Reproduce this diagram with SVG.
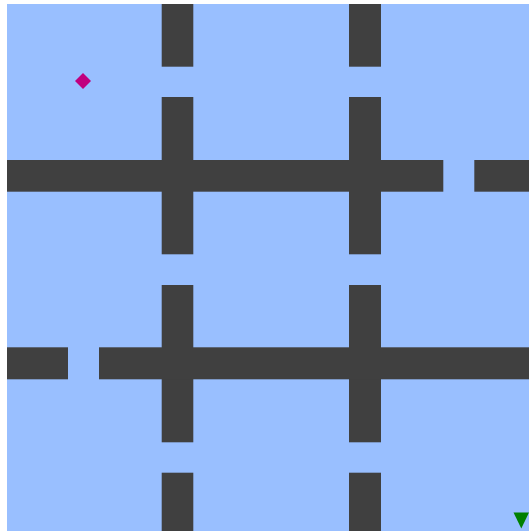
<svg xmlns="http://www.w3.org/2000/svg" width="529" height="531" viewBox="0 0 529 531">
<style>
.bg{fill:#99bfff}
.wall{fill:#404040}
</style>
<rect x="0" y="0" width="529" height="531" fill="#ffffff"/>
<rect class="bg" x="7" y="4" width="522" height="527"/>
<g id="walls">
<rect class="wall" x="161.7" y="4" width="31.6" height="62.7"/>
<rect class="wall" x="161.7" y="97" width="31.6" height="157.3"/>
<rect class="wall" x="161.7" y="285" width="31.6" height="157.3"/>
<rect class="wall" x="161.7" y="472.7" width="31.6" height="58.3"/>
<rect class="wall" x="349" y="4" width="32" height="62.7"/>
<rect class="wall" x="349" y="97" width="32" height="157.3"/>
<rect class="wall" x="349" y="285" width="32" height="157.3"/>
<rect class="wall" x="349" y="472.7" width="32" height="58.3"/>
<rect class="wall" x="7" y="160" width="436.3" height="31.7"/>
<rect class="wall" x="474.3" y="160" width="54.7" height="31.7"/>
<rect class="wall" x="7" y="347.3" width="61" height="32"/>
<rect class="wall" x="99" y="347.3" width="430" height="32"/>
</g>
<g id="start"><polygon points="83,73 91,81 83,89 75,81" fill="#c0007f"/></g>
<g id="goal"><polygon points="513.5,512.5 529,512.5 521.3,528.5" fill="#008000"/></g>
</svg>
